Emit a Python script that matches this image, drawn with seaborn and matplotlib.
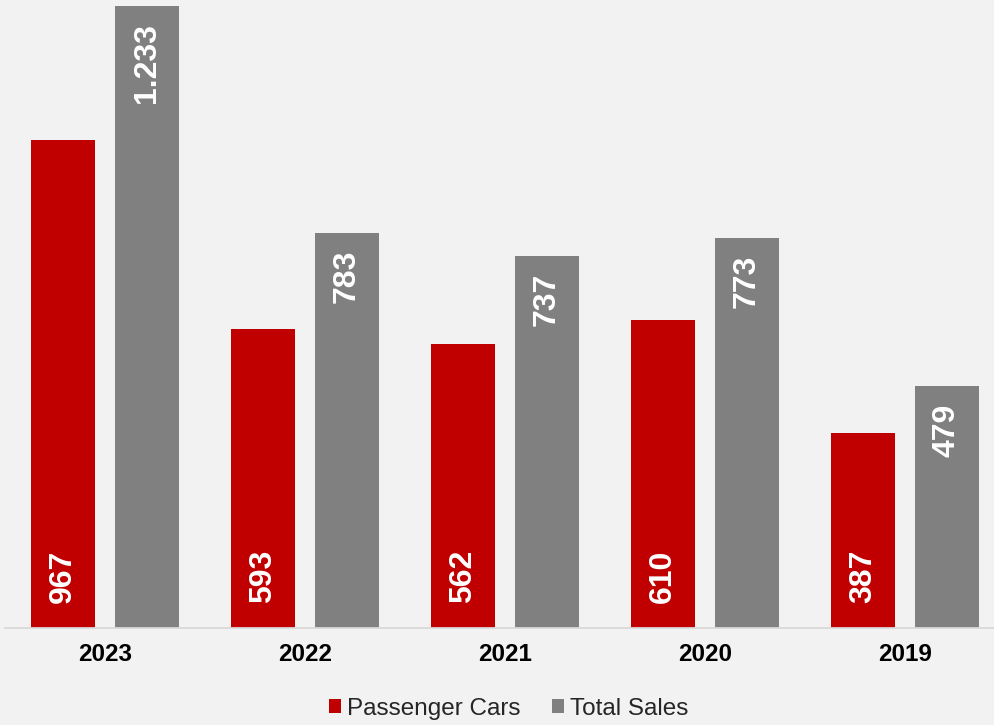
import matplotlib
matplotlib.use("Agg")
import matplotlib.pyplot as plt
import matplotlib.transforms as mtransforms
from matplotlib.patches import Patch
import seaborn as sns
import pandas as pd

years = ["2023", "2022", "2021", "2020", "2019"]
passenger_cars = [967, 593, 562, 610, 387]
total_sales = [1233, 783, 737, 773, 479]
series_names = ["Passenger Cars", "Total Sales"]
colors = ["#C00000", "#808080"]

df = pd.DataFrame({
    "year": years * 2,
    "value": passenger_cars + total_sales,
    "series": [series_names[0]] * len(years) + [series_names[1]] * len(years),
})

sns.set_theme(style="white")
plt.rcParams["font.family"] = ["Liberation Sans", "DejaVu Sans"]

W, H = 995, 725
fig = plt.figure(figsize=(W / 100, H / 100), dpi=100)
fig.patch.set_facecolor("#F2F2F2")
ax = fig.add_axes([5 / W, (H - 628) / H, 990 / W, 622 / H])
ax.set_facecolor("#F2F2F2")

sns.barplot(data=df, x="year", y="value", hue="series", order=years,
            hue_order=series_names, palette=colors, width=0.84, gap=0.238,
            saturation=1, legend=False, ax=ax, errorbar=None, linewidth=0)

ax.set_xlim(-0.5, 4.45)
ax.set_ylim(0, 1233)
ax.set_xlabel("")
ax.set_ylabel("")
ax.set_yticks([])
for s in ["left", "right", "top"]:
    ax.spines[s].set_visible(False)
ax.spines["bottom"].set_color("#D9D9D9")
ax.spines["bottom"].set_linewidth(1.3)
ax.tick_params(axis="x", length=0, pad=10.5, labelsize=17.5, labelcolor="black")
for lbl in ax.get_xticklabels():
    lbl.set_fontweight("bold")

def fmt(v):
    return f"{v:,}".replace(",", ".")

# red labels at bar base, grey labels at bar top
red_off = mtransforms.offset_copy(ax.transData, fig=fig, x=0, y=25, units="dots")
grey_off = mtransforms.offset_copy(ax.transData, fig=fig, x=0, y=-17, units="dots")
for ci, container in enumerate(ax.containers):
    vals = passenger_cars if ci == 0 else total_sales
    for bar, v in zip(container.patches, vals):
        xc = bar.get_x() + bar.get_width() / 2
        if ci == 0:
            ax.text(xc, 0, fmt(v), transform=red_off, rotation=90, ha="center",
                    va="bottom", color="white", fontsize=23, fontweight="bold")
        else:
            ax.text(xc, bar.get_height(), fmt(v), transform=grey_off, rotation=90,
                    ha="center", va="top", color="white", fontsize=23, fontweight="bold")

handles = [Patch(facecolor=c, edgecolor="none") for c in colors]
fig.legend(handles, series_names, loc="center", bbox_to_anchor=(508.5 / W, (H - 709) / H),
           ncol=2, frameon=False, fontsize=17.5, handlelength=0.5, handleheight=0.5,
           handletextpad=0.25, columnspacing=1.3, borderpad=0)

fig.savefig("out.png", dpi=100, facecolor=fig.get_facecolor())
